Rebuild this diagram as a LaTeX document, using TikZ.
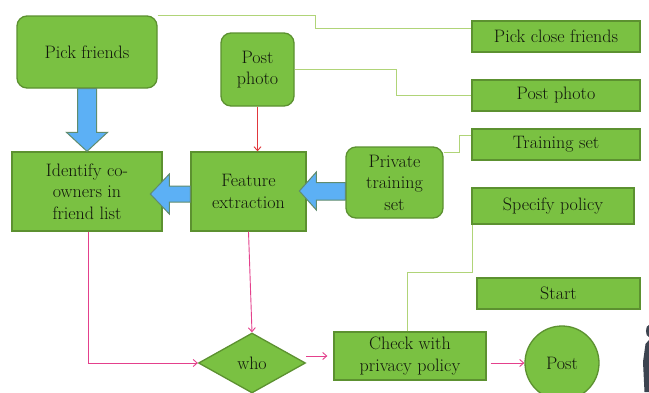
\documentclass[tikz,border=0pt]{standalone}
\usetikzlibrary{shapes.geometric,arrows.meta,calc}
\definecolor{gfill}{RGB}{122,193,66}
\definecolor{gdraw}{RGB}{92,145,48}
\definecolor{lgline}{RGB}{176,212,120}
\definecolor{bfill}{RGB}{92,176,245}
\definecolor{bdraw}{RGB}{96,140,110}
\definecolor{pinkc}{RGB}{228,64,140}
\definecolor{redc}{RGB}{225,55,60}
\definecolor{txtc}{RGB}{18,24,12}
\definecolor{personc}{RGB}{60,68,80}
\tikzset{
  base/.style={fill=gfill,draw=gdraw,line width=1.3pt,text=txtc,align=center,inner sep=0pt,
    font=\fontsize{18}{21.5}\selectfont},
  rbox/.style={base,rectangle,rounded corners=10pt},
  sbox/.style={base,rectangle},
  lg/.style={draw=lgline,line width=1pt},
  blk/.style={fill=bfill,draw=bdraw,line width=1pt,line join=miter},
  pk/.style={draw=pinkc,line width=0.9pt,-{Straight Barb[length=4pt,width=7pt]}},
  rd/.style={draw=redc,line width=0.9pt,-{Straight Barb[length=4pt,width=7pt]}}
}
\begin{document}
\begin{tikzpicture}[x=1pt,y=-1pt]
\useasboundingbox (0,0) rectangle (649,392);
\fill[white] (0,0) rectangle (649,392);

% nodes
\node[rbox,minimum width=140pt,minimum height=72pt] (pf) at (87,52) {Pick friends};
\node[rbox,minimum width=73pt,minimum height=73pt] (pp) at (257.5,69.5) {Post\\photo};
\node[sbox,minimum width=150pt,minimum height=79pt] (id) at (87,191.5) {Identify co-\\owners in\\friend list};
\node[sbox,minimum width=115pt,minimum height=79pt] (fe) at (248.5,191.5) {Feature\\extraction};
\node[rbox,minimum width=97pt,minimum height=71pt] (pts) at (394.5,182.5) {Private\\training\\set};
\node[sbox,minimum width=168pt,minimum height=31pt] (pcf) at (556,36.5) {Pick close friends};
\node[sbox,minimum width=168pt,minimum height=31pt] (pph) at (556,95.5) {Post photo};
\node[sbox,minimum width=168pt,minimum height=31pt] (ts) at (556,144.5) {Training set};
\node[sbox,minimum width=162pt,minimum height=36pt] (sp) at (553,206) {Specify policy};
\node[sbox,minimum width=163pt,minimum height=31pt] (st) at (558.5,293.5) {Start};
\node[sbox,minimum width=152pt,minimum height=48pt] (ck) at (410,356) {Check with\\privacy policy};
\node[base,diamond,minimum width=107pt,minimum height=60pt] (who) at (252,363) {who};
\node[base,circle,minimum size=74pt] (post) at (562,363) {Post};

% light green connectors
\draw[lg] (pf.north east) -- ++(158,0) |- ([yshift=8.5pt]pcf.west);
\draw[lg] (pp.east) -- ++(102,0) |- (pph.west);
\draw[lg] ([yshift=-6pt]pts.north east) -- ++(16,0) |- ([yshift=9.5pt]ts.west);
\draw[lg] ([xshift=-3pt]ck.north) -- ++(0,-59) -| ([xshift=1pt]sp.south west);

% blue block arrows
\draw[blk] ($(pf.south)+(-9.5,0)$) -- ($(id.north)+(-9.5,-19)$) -- ($(id.north)+(-20.5,-19)$)
  -- (id.north) -- ($(id.north)+(20.5,-19)$) -- ($(id.north)+(9.5,-19)$) -- ($(pf.south)+(9.5,0)$) -- cycle;
\draw[blk] ($(fe.west)+(0,-5.5)$) -- ($(fe.west)+(-21,-5.5)$) -- ($(fe.west)+(-21,-17.5)$)
  -- ($(fe.west)+(-40,2.5)$) -- ($(fe.west)+(-21,22.5)$) -- ($(fe.west)+(-21,10.5)$) -- ($(fe.west)+(0,10.5)$) -- cycle;
\draw[blk] ($(pts.west)+(0,0)$) -- ($(pts.west)+(-29,0)$) -- ($(pts.west)+(-29,-10.5)$)
  -- ($(pts.west)+(-46,8.5)$) -- ($(pts.west)+(-29,27.5)$) -- ($(pts.west)+(-29,17.5)$) -- ($(pts.west)+(0,17.5)$) -- cycle;

% red / pink arrows
\draw[rd] (pp.south) -- (pp.south |- fe.north);
\draw[pk] ([xshift=1pt]id.south) |- (who.west);
\draw[pk] (fe.south) -- (who.north);
\draw[pk] (who.east |- ck.west) -- ([xshift=-6pt]ck.west);
\draw[pk] ([xshift=4pt]ck.east |- post.west) -- (post.west);

% partial figure at the right edge
\fill[personc] (649,325) .. controls (645,325) and (645,337) .. (649,337) -- cycle;
\fill[personc] (649,340) -- (645.5,344) -- (643,362) -- (644.5,392) -- (649,392) -- cycle;
\end{tikzpicture}
\end{document}
